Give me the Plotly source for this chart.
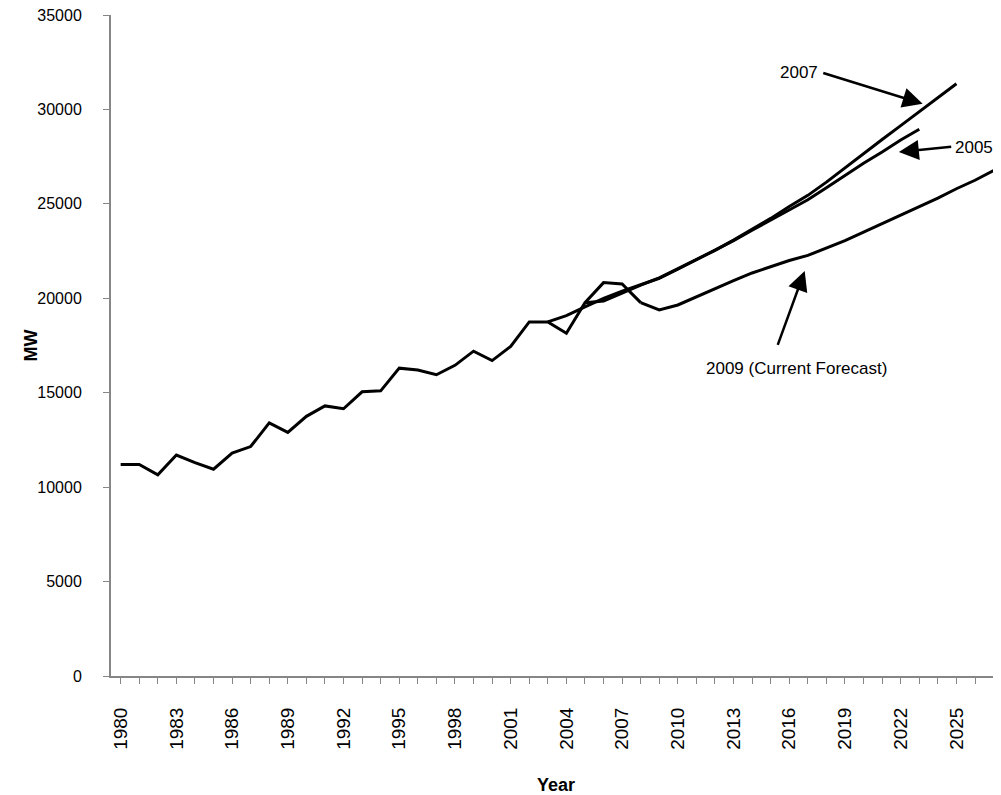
import plotly.graph_objects as go

# ---------------- data ----------------
actual_years = list(range(1980, 2009))
actual_mw = [11200, 11200, 10650, 11700, 11300, 10950, 11800, 12150, 13400, 12900,
             13750, 14300, 14150, 15050, 15100, 16300, 16200, 15950, 16450, 17200,
             16700, 17450, 18750, 18750, 18150, 19770, 20830, 20760, 19770]

f2005_years = list(range(2003, 2024))
f2005_mw = [18750, 19080, 19550, 20000, 20380, 20720, 21060, 21540, 22030, 22520,
            23050, 23600, 24140, 24680, 25220, 25850, 26500, 27150, 27750, 28380, 28950]

f2007_years = list(range(2005, 2026))
f2007_mw = [19770, 19850, 20270, 20700, 21080, 21560, 22050, 22540, 23080, 23650,
            24230, 24860, 25450, 26150, 26920, 27680, 28410, 29140, 29870, 30600, 31360]

f2009_years = list(range(2008, 2028))
f2009_mw = [19770, 19380, 19645, 20080, 20480, 20930, 21340, 21680, 22000, 22270,
            22650, 23050, 23500, 23950, 24400, 24850, 25300, 25800, 26250, 26760]

x_tick_years = list(range(1980, 2026, 3))
y_ticks = [0, 5000, 10000, 15000, 20000, 25000, 30000, 35000]

AXIS_GREY = "#868686"
LINE_W = 3
FONT = "Liberation Sans, Arial, sans-serif"

fig = go.Figure()
for xs, ys, name in [(actual_years, actual_mw, "Actual"),
                     (f2005_years, f2005_mw, "2005"),
                     (f2007_years, f2007_mw, "2007"),
                     (f2009_years, f2009_mw, "2009 (Current Forecast)")]:
    fig.add_trace(go.Scatter(x=xs, y=ys, mode="lines", name=name,
                             line=dict(color="black", width=LINE_W),
                             showlegend=False))

# arrows (tip = x,y ; tail = ax,ay in data coords)
arrows = [
    dict(tip=(2023.18, 30300), tail=(2017.75, 31950)),
    dict(tip=(2021.9, 27750), tail=(2024.8, 28030)),
    dict(tip=(2016.83, 21450), tail=(2015.35, 17450)),
]
for a in arrows:
    fig.add_annotation(x=a["tip"][0], y=a["tip"][1], ax=a["tail"][0], ay=a["tail"][1],
                       xref="x", yref="y", axref="x", ayref="y", text="",
                       showarrow=True, arrowhead=2, arrowsize=1.6, arrowwidth=2.5,
                       arrowcolor="black")

labels = [
    dict(text="2007", pos=(2016.55, 31950)),
    dict(text="2005", pos=(2025.97, 28010)),
    dict(text="2009 (Current Forecast)", pos=(2016.37, 16300)),
]
for l in labels:
    fig.add_annotation(x=l["pos"][0], y=l["pos"][1], xref="x", yref="y",
                       text=l["text"], showarrow=False,
                       font=dict(family=FONT, size=17, color="black"))

# y-axis title placed as a rotated annotation left of the tick labels
fig.add_annotation(x=0, y=0.5, xref="paper", yref="paper", xshift=-81,
                   xanchor="center", yanchor="middle",
                   text="<b>MW</b>", textangle=-90, showarrow=False,
                   font=dict(family=FONT, size=18, color="black"))

# page body has an 8px default margin, so the figure is shrunk by 8px and
# the margins offset accordingly to keep the plot area in place
fig.update_layout(
    width=993, height=787,
    margin=dict(l=103, r=0, t=7, b=119),
    plot_bgcolor="white", paper_bgcolor="white",
    font=dict(family=FONT, color="black"),
)
fig.update_xaxes(
    range=[1979.48, 2027.4],
    tickmode="array", tickvals=x_tick_years, ticktext=[str(y) for y in x_tick_years],
    tickangle=-90, tickfont=dict(size=19, color="black"),
    ticks="outside", ticklen=6, tickcolor=AXIS_GREY, tickwidth=1,
    minor=dict(dtick=1, tick0=1980, ticks="outside", ticklen=6, tickcolor=AXIS_GREY, showgrid=False),
    showline=True, linecolor=AXIS_GREY, linewidth=2,
    showgrid=False, zeroline=False,
    ticklabelstandoff=16,
    title=dict(text="<b>Year</b>", font=dict(family=FONT, size=18, color="black"), standoff=30),
)
fig.update_yaxes(
    range=[0, 35000],
    tickmode="array", tickvals=y_ticks, ticktext=[str(v) for v in y_ticks],
    tickfont=dict(size=16, color="black"),
    ticks="outside", ticklen=6, tickcolor=AXIS_GREY, tickwidth=1,
    showline=True, linecolor=AXIS_GREY, linewidth=2,
    showgrid=False, zeroline=False,
    ticklabelstandoff=18, ticklabeloverflow="allow",
)

fig.write_html("out.html")
